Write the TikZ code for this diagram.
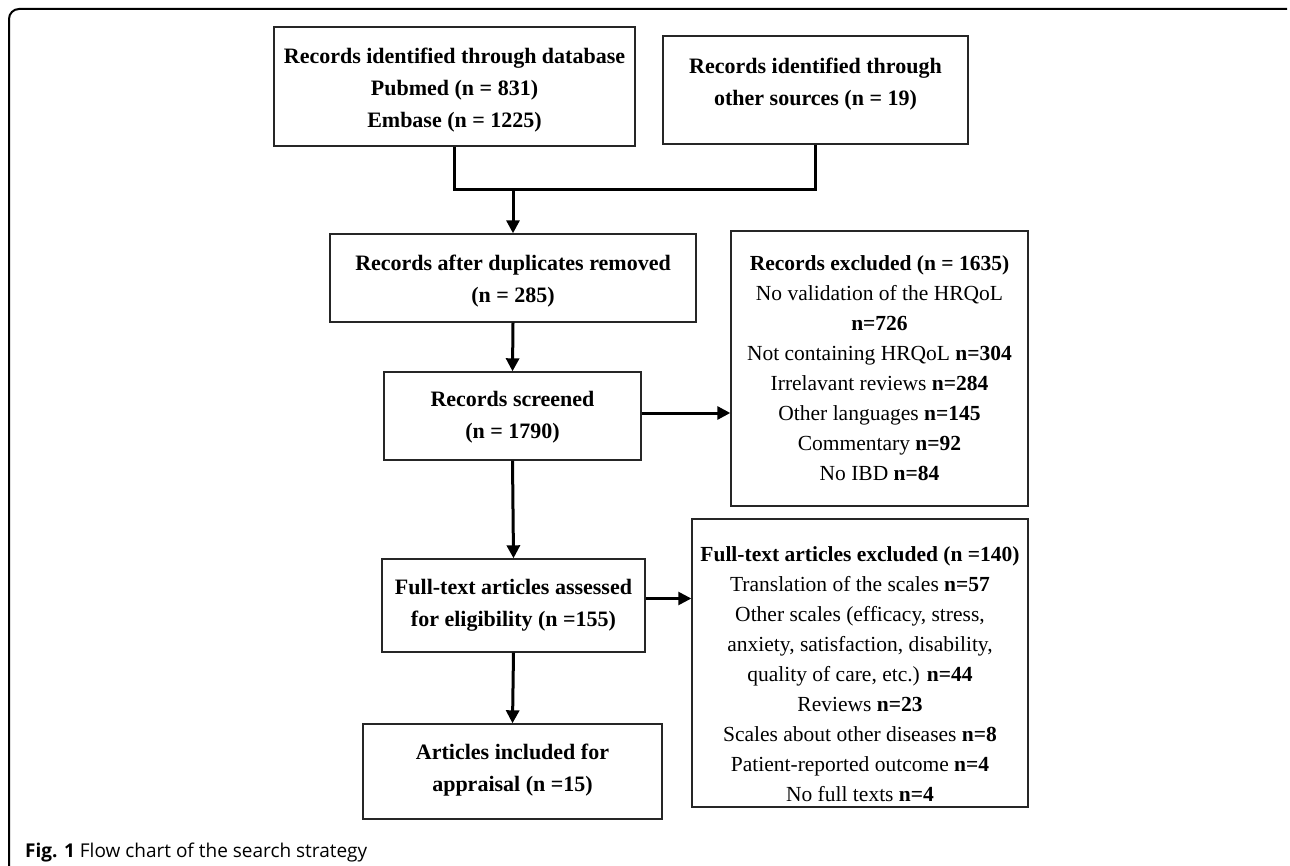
\documentclass[tikz,border=0pt]{standalone}
\usepackage{fontspec}
\setmainfont{Liberation Serif}
\newfontfamily\capfont{Open Sans}
\usetikzlibrary{arrows.meta}
\tikzset{
  boxshape/.style={draw=black!85, line width=1.4pt, rectangle, inner sep=0pt},
  boxtext/.style={align=center, inner sep=0pt, font=\fontsize{22}{32}\selectfont},
  listtext/.style={align=center, inner sep=0pt, font=\fontsize{21.5}{30}\selectfont},
  conn/.style={line width=3pt, draw=black},
  arr/.style={line width=3pt, draw=black, -{Triangle[length=13pt,width=13pt]}},
}
\begin{document}
\begin{tikzpicture}[x=1pt,y=-1pt]
\useasboundingbox (0,0) rectangle (1290,866);
% outer frame
\draw[line width=2pt, rounded corners=10pt] (9,870) -- (9,9) -- (1287,9);
% boxes
\node[boxshape, minimum width=361pt, minimum height=119pt] (db) at (454.5,86.5) {};
\node[boxshape, minimum width=305pt, minimum height=108pt] (other) at (815.5,90) {};
\node[boxshape, minimum width=366pt, minimum height=88pt] (dup) at (513,278) {};
\node[boxshape, minimum width=257pt, minimum height=88pt] (scr) at (512.5,416) {};
\node[boxshape, minimum width=297pt, minimum height=275pt] (exa) at (879.5,368.5) {};
\node[boxshape, minimum width=263pt, minimum height=93pt] (ft) at (513.5,605.5) {};
\node[boxshape, minimum width=336pt, minimum height=288pt] (exb) at (860,663) {};
\node[boxshape, minimum width=299pt, minimum height=95pt] (inc) at (512.5,771.5) {};
% texts
\node[boxtext] (tdb) at (454.5,90) {\textbf{Records identified through database}\\\textbf{Pubmed (n = 831)}\\\textbf{Embase (n = 1225)}};
\node[boxtext] (tother) at (815.5,84) {\textbf{Records identified through}\\\textbf{other sources (n = 19)}};
\node[boxtext] (tdup) at (513,281) {\textbf{Records after duplicates removed}\\\textbf{(n = 285)}};
\node[boxtext] (tscr) at (512.5,417) {\textbf{Records screened}\\\textbf{(n = 1790)}};
\node[boxtext] (tft) at (513.5,605) {\textbf{Full-text articles assessed}\\\textbf{for eligibility (n =155)}};
\node[boxtext] (tinc) at (512.5,770) {\textbf{Articles included for}\\\textbf{appraisal (n =15)}};
\node[listtext] (texa) at (879.5,368.5) {\textbf{Records excluded (n = 1635)}\\No validation of the HRQoL\\\textbf{n=726}\\Not containing HRQoL \textbf{n=304}\\Irrelavant reviews \textbf{n=284}\\Other languages \textbf{n=145}\\Commentary \textbf{n=92}\\No IBD \textbf{n=84}};
\node[listtext] (texb) at (860,674) {\textbf{Full-text articles excluded (n =140)}\\Translation of the scales \textbf{n=57}\\Other scales (efficacy, stress,\\anxiety, satisfaction, disability,\\quality of care, etc.) \textbf{n=44}\\Reviews \textbf{n=23}\\Scales about other diseases \textbf{n=8}\\Patient-reported outcome \textbf{n=4}\\No full texts \textbf{n=4}};
% connectors
\coordinate (j) at (513,189);
\draw[conn] (db.south) -- ++(0,43) -| (other.south);
\draw[arr] (j) -- (dup.north);
\draw[arr] (dup.south) -- (scr.north);
\draw[arr] (scr.south) -- (ft.north);
\draw[arr] (ft.south) -- (inc.north);
\draw[arr] ([yshift=3pt]scr.east) -- ([yshift=3pt]scr.east -| exa.west);
\draw[arr, line width=2.5pt] ([yshift=7pt]ft.east) -- ([yshift=7pt]ft.east -| exb.west);
% caption
\node[anchor=base west, inner sep=0pt, font=\capfont\fontsize{19}{22}\selectfont] (cap) at (25,857) {\textbf{Fig. 1} Flow chart of the search strategy};
\end{tikzpicture}
\end{document}
